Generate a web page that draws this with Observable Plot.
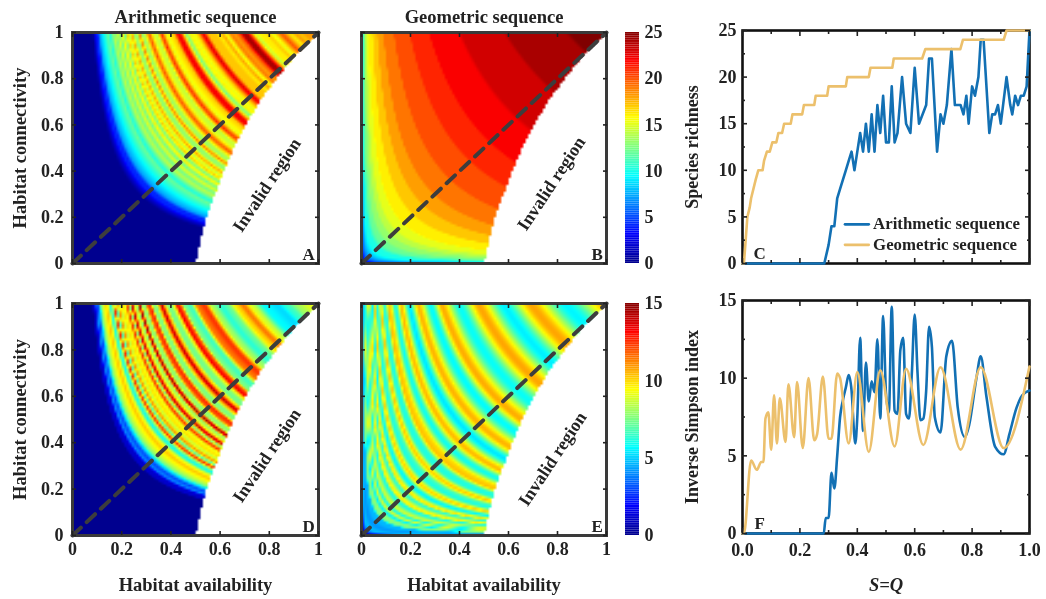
<!DOCTYPE html>
<html><head><meta charset="utf-8">
<style>
html,body{margin:0;padding:0;background:#fff}
#chart{position:relative;width:1046px;height:599px;overflow:hidden}
#chart svg{position:absolute;filter:blur(.6px)}
</style>
<script src="https://cdn.jsdelivr.net/npm/d3@7"></script>
<script src="https://cdn.jsdelivr.net/npm/@observablehq/plot@0.6"></script>
</head><body><div id="chart"></div>
<script>
const arithS = [0,.28,.285,.30,.31,.32,.33,.34,.35,.36,.37,.38,.39,.40,.41,.42,.43,.44,.45,.46,.47,.48,.49,.50,.51,.52,.53,.54,.556,.57,.585,.60,.615,.64,.65,.66,.678,.69,.70,.712,.728,.74,.76,.77,.78,.788,.80,.81,.822,.83,.84,.86,.87,.88,.89,.90,.92,.933,.94,.95,.96,.97,.98,.99,1];
const arithRichness = [0,0,0,2,4,4,7,8,9,10,11,12,10,12,14,12,15,12,16,12,17,14,18,13,13,19,13,14,20,15,14,21,15,17,22,22,12,16,15,17,23,17,17,16,18,15,19,18,20,24,24,14,16,16,17,15,20,17,16,18,17,18,18,19,25];
const geomS = [0,.005,.017,.025,.03,.046,.055,.07,.075,.085,.095,.104,.118,.125,.138,.145,.168,.174,.208,.214,.25,.255,.295,.30,.36,.365,.44,.446,.522,.527,.626,.637,.759,.768,.91,.92,1];
const geomRichness = [0,0,5,6,7,9,10,10,11,12,12,13,13,14,14,15,15,16,16,17,17,18,18,19,19,20,20,21,21,22,22,23,23,24,24,25,25];
const arithSimpS = [0,.28,.283,.29,.30,.31,.315,.32,.33,.34,.35,.36,.37,.38,.39,.393,.40,.41,.42,.43,.44,.45,.46,.47,.48,.49,.50,.51,.52,.53,.54,.55,.56,.57,.58,.59,.60,.61,.62,.63,.64,.65,.66,.67,.69,.71,.73,.75,.775,.79,.815,.83,.85,.88,.91,.93,.955,.975,1];
const arithSimpson = [0,0,0,1,1,3.9,3.4,2.9,5,7.5,8.6,9.4,10.2,9.2,6.2,5.8,7.5,12.6,6.6,11,8.5,9.8,9.1,12.5,7.4,14,9,7.8,14.6,7.9,7.7,11.8,12.6,7.7,7.4,10.3,14.1,10.3,7.3,7.4,9.2,13.3,12,7.5,6.5,11.4,12.4,8.1,6.2,7,10,11.4,8.8,5.6,5.1,6.4,8.1,8.9,9.2];
const geomSimpS = [0,.005,.03,.05,.065,.073,.08,.09,.10,.11,.12,.13,.15,.16,.18,.19,.21,.23,.25,.26,.28,.30,.31,.33,.34,.37,.40,.44,.48,.53,.57,.63,.69,.76,.83,.91,1];
const geomSimpson = [0,0,4.7,4.1,4.6,4.6,7.4,7.8,5.4,8.9,5.8,8.7,5.9,9.6,6.2,9.75,5.5,10,6,6.4,10.1,6.1,6.1,10.3,10,5.8,10.4,5.25,10.5,5.6,10.6,5.7,10.7,5.4,10.7,5.5,10.75];
// Right edge of the valid region, read per connectivity row
const edgeQ = [0,.1,.2,.3,.4,.5,.6,.7,.8,.9,1];
const edgeS = [.5,.52,.545,.58,.615,.655,.705,.76,.83,.905,1];
const gridSize = 100;

const unitTicks = [0,.2,.4,.6,.8,1];
const tenthTicks = [.1,.3,.5,.7,.9];
const richTicks = [0,5,10,15,20,25], richMinor = [2.5,7.5,12.5,17.5,22.5];
const simpTicks = [0,5,10,15], simpMinor = [2.5,7.5,12.5];
const jetStops = [0,.125,.375,.625,.875,1];
const jetColors = ["#00008f","#0000ff","#00ffff","#ffff00","#ff0000","#800000"];
const serif = "'Liberation Serif','Times New Roman',serif";
const seriesBlue = "#1270b4", seriesGold = "#ecc06c", ink = "#222", frameInk = "#3a3a3a";

const root = document.getElementById("chart");
const lookup = (xs, ys, x, smooth) => {
  const i = d3.bisectRight(xs, x);
  if (i <= 0) return ys[0];
  if (i >= xs.length) return ys[ys.length - 1];
  let f = (x - xs[i-1]) / (xs[i] - xs[i-1]);
  if (smooth) f = f * f * (3 - 2 * f);
  return ys[i-1] + f * (ys[i] - ys[i-1]);
};
// Heat-map cells take their value from the diagonal curves above: the arcs
// of equal value follow S*Q = constant, an approximation checked against the
// reference's band positions, not a cell-by-cell reading.
const cellsFrom = (xs, ys, smooth) => {
  const out = [];
  for (let j = 0; j < gridSize; j++) for (let i = 0; i < gridSize; i++) {
    const S = (i + .5) / gridSize, Q = (j + .5) / gridSize;
    if (S > lookup(edgeQ, edgeS, Q)) continue;
    out.push({S, Q, v: lookup(xs, ys, Math.sqrt(S * Q), smooth)});
  }
  return out;
};
const place = (fx0, fx1, fy0, fy1, options) => {
  const mL = 72, mR = 20, mT = 32, mB = 64;
  const svg = Plot.plot({
    width: fx1 - fx0 + mL + mR, height: fy1 - fy0 + mT + mB,
    marginLeft: mL, marginRight: mR, marginTop: mT, marginBottom: mB,
    style: {fontFamily: serif, fontWeight: "bold", fontSize: "18px", color: ink, background: "transparent", overflow: "visible"},
    ...options
  });
  svg.style.left = (fx0 - mL) + "px";
  svg.style.top = (fy0 - mT) + "px";
  root.appendChild(svg);
};
const tickRing = (xT, yT, size) => [
  Plot.axisX(xT, {anchor:"bottom", tickSize:-size, tickFormat:()=>"", label:null, strokeWidth:1.6}),
  Plot.axisX(xT, {anchor:"top", tickSize:-size, tickFormat:()=>"", label:null, strokeWidth:1.6}),
  Plot.axisY(yT, {anchor:"left", tickSize:-size, tickFormat:()=>"", label:null, strokeWidth:1.6}),
  Plot.axisY(yT, {anchor:"right", tickSize:-size, tickFormat:()=>"", label:null, strokeWidth:1.6})
];
const heatPanel = (box, cfg) => place(box[0], box[1], box[2], box[3], {
  x:{domain:[0,1]}, y:{domain:[0,1]},
  color:{type:"linear", domain:jetStops.map(d=>d*cfg.max), range:jetColors, clamp:true},
  marks:[
    Plot.raster(cfg.cells,{x:"S",y:"Q",fill:"v",x1:0,x2:1,y1:0,y2:1,width:gridSize,height:gridSize}),
    Plot.line([0,1],{x:d=>d,y:d=>d,stroke:"#3d3d3d",strokeWidth:4,strokeDasharray:"11.5,8"}),
    Plot.frame({stroke:frameInk,strokeWidth:3}),
    ...tickRing(unitTicks, unitTicks, 4),
    cfg.left ? Plot.axisY(unitTicks,{anchor:"left",tickSize:0,tickPadding:9,tickFormat:d=>String(d),label:null}) : null,
    cfg.bottom ? Plot.axisX(unitTicks,{anchor:"bottom",tickSize:0,tickPadding:7,tickFormat:d=>String(d),label:null}) : null,
    cfg.title ? Plot.text([cfg.title],{frameAnchor:"top",dy:-23,fontSize:18.5,fontWeight:"bold"}) : null,
    cfg.left ? Plot.text(["Habitat connectivity"],{frameAnchor:"left",textAnchor:"middle",dx:-52,rotate:-90,fontSize:18.5,fontWeight:"bold"}) : null,
    cfg.bottom ? Plot.text(["Habitat availability"],{frameAnchor:"bottom",dy:55,fontSize:18.5,fontWeight:"bold"}) : null,
    Plot.text(["Invalid region"],{x:()=>cfg.note[0],y:()=>cfg.note[1],rotate:-56.5,fontSize:18,fontWeight:"bold",fill:"#222"}),
    Plot.text([cfg.letter],{x:()=>.985,y:()=>.04,textAnchor:"end",fontSize:17,fontWeight:"bold"})
  ]
});
const colorBar = (box, max, ticks) => {
  const step = max / 128;
  place(box[0], box[1], box[2], box[3], {
    x:{domain:[0,1],axis:null}, y:{domain:[0,max]},
    color:{type:"linear", domain:jetStops.map(d=>d*max), range:jetColors},
    marks:[
      Plot.rect(d3.range(0,max,step),{x1:()=>0,x2:()=>1,y1:d=>d,y2:d=>d+step,fill:d=>d}),
      Plot.axisY(ticks,{anchor:"right",tickSize:0,tickPadding:5,tickFormat:d=>String(d),label:null})
    ]
  });
};
const linePanel = (box, cfg) => place(box[0], box[1], box[2], box[3], {
  x:{domain:[0,1]}, y:{domain:[0,cfg.max]},
  marks:[
    Plot.frame({stroke:"#111",strokeWidth:2.6}),
    Plot.line(cfg.blueS,{x:d=>d,y:(d,i)=>cfg.blue[i],stroke:seriesBlue,strokeWidth:2.6,curve:cfg.curve}),
    Plot.line(cfg.goldS,{x:d=>d,y:(d,i)=>cfg.gold[i],stroke:seriesGold,strokeWidth:2.6,curve:cfg.curve}),
    ...tickRing(unitTicks, cfg.yTicks, 5),
    ...tickRing(tenthTicks, cfg.yMinor, 3),
    Plot.axisY(cfg.yTicks,{anchor:"left",tickSize:0,tickPadding:6,tickFormat:d=>String(d),label:null}),
    cfg.bottom ? Plot.axisX(unitTicks,{anchor:"bottom",tickSize:0,tickPadding:10,tickFormat:d3.format(".1f"),label:null}) : null,
    Plot.text([cfg.ylabel],{frameAnchor:"left",textAnchor:"middle",dx:-50,rotate:-90,fontSize:18,fontWeight:"bold"}),
    cfg.bottom ? Plot.text(["S=Q"],{frameAnchor:"bottom",dy:57,fontSize:18.5,fontWeight:"bold",fontStyle:"italic"}) : null,
    Plot.text([cfg.letter],{x:()=>.06,y:()=>cfg.letterY,fontSize:17,fontWeight:"bold"}),
    ...(cfg.legend ? [
      Plot.line([.357,.44],{x:d=>d,y:()=>4.2,stroke:seriesBlue,strokeWidth:2.6}),
      Plot.line([.357,.44],{x:d=>d,y:()=>2,stroke:seriesGold,strokeWidth:2.6}),
      Plot.text(["Arithmetic sequence"],{x:()=>.455,y:()=>4.3,textAnchor:"start",fontSize:16.8,fontWeight:"bold"}),
      Plot.text(["Geometric sequence"],{x:()=>.455,y:()=>2.05,textAnchor:"start",fontSize:16.8,fontWeight:"bold"})
    ] : [])
  ]
});

heatPanel([72,318,32,263],{max:25,cells:cellsFrom(arithS,arithRichness,false),left:true,title:"Arithmetic sequence",letter:"A",note:[.79,.34]});
heatPanel([361,606,32,263],{max:25,cells:cellsFrom(geomS,geomRichness,false),title:"Geometric sequence",letter:"B",note:[.775,.346]});
heatPanel([72,318,303,535],{max:15,cells:cellsFrom(arithSimpS,arithSimpson,true),left:true,bottom:true,letter:"D",note:[.79,.345]});
heatPanel([361,606,303,535],{max:15,cells:cellsFrom(geomSimpS,geomSimpson,true),bottom:true,letter:"E",note:[.78,.33]});
colorBar([625,639,32,263],25,richTicks);
colorBar([625,639,303,535],15,[0,5,10,15]);
linePanel([742,1029,30,263],{max:25,blueS:arithS,blue:arithRichness,goldS:geomS,gold:geomRichness,curve:"linear",yTicks:richTicks,yMinor:richMinor,ylabel:"Species richness",letter:"C",letterY:1.1,legend:true});
linePanel([742,1029,300,533],{max:15,blueS:arithSimpS,blue:arithSimpson,goldS:geomSimpS,gold:geomSimpson,curve:"monotone-x",yTicks:simpTicks,yMinor:simpMinor,ylabel:"Inverse Simpson index",letter:"F",letterY:.65,bottom:true});
</script></body></html>
